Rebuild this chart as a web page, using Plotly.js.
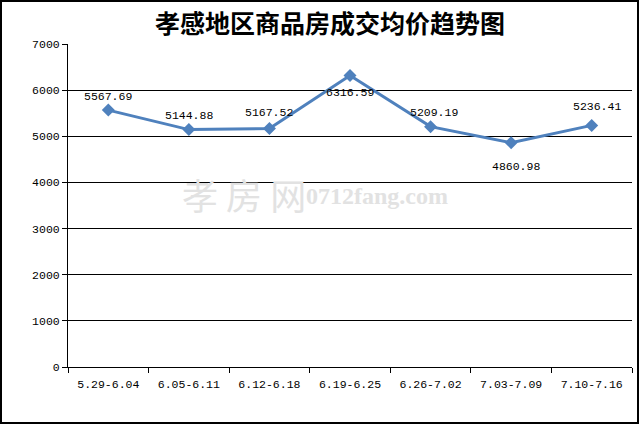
<!DOCTYPE html>
<html><head><meta charset="utf-8">
<script src="https://cdn.plot.ly/plotly-3.0.1.min.js"></script>
<style>body{margin:0;padding:0;background:#fff}#chart{width:642px;height:424px}</style>
</head><body><div id="chart"></div>
<script>
const categories = ["5.29-6.04","6.05-6.11","6.12-6.18","6.19-6.25","6.26-7.02","7.03-7.09","7.10-7.16"];
const prices = [5567.69, 5144.88, 5167.52, 6316.59, 5209.19, 4860.98, 5236.41];
const yTicks = [0,1000,2000,3000,4000,5000,6000,7000];
// label offsets in px (style only)
const labelDy = [14, 14, 16, -17, 14, -24, 19];
const labelDx = [0, 0, 0, 0, 3, 5, 5];

const mono = "'Liberation Mono', 'DejaVu Sans Mono', monospace";
const trace = {
  x: categories, y: prices, type: 'scatter', mode: 'lines+markers',
  line: {color: '#4F81BD', width: 3},
  marker: {symbol: 'diamond', size: 10, color: '#4F81BD'},
  cliponaxis: false, hoverinfo: 'none'
};
const W = 564, H = 323;
const labelAnns = prices.map((v, i) => ({
  x: categories[i], y: v, xref: 'x', yref: 'y', text: v.toFixed(2), showarrow: false,
  xanchor: 'center', yanchor: 'middle', xshift: labelDx[i], yshift: labelDy[i],
  font: {family: mono, size: 11.5, color: '#000'}
}));
const layout = {
  width: 642, height: 424,
  margin: {l: 68, r: 10, t: 44, b: 57},
  paper_bgcolor: '#fff', plot_bgcolor: '#fff',
  showlegend: false,
  title: {text: '孝感地区商品房成交均价趋势图', font: {family: "'Noto Sans CJK SC'", size: 25, color: '#000', weight: 'bold'},
          x: 330/642, xanchor: 'center', y: 1 - 24/424, yanchor: 'middle', yref: 'container'},
  xaxis: {type: 'category', range: [-0.5, 6.5], showgrid: false, zeroline: false,
          showline: true, linecolor: '#000', linewidth: 1,
          ticks: 'outside', tickson: 'boundaries', ticklen: 5, tickcolor: '#000',
          ticklabelstandoff: 6,
          tickfont: {family: mono, size: 11.5, color: '#000'}, fixedrange: true},
  yaxis: {range: [0, 7000], tickvals: yTicks, ticktext: yTicks.map(String),
          showgrid: true, gridcolor: '#000', gridwidth: 1, zeroline: false,
          showline: true, linecolor: '#000', linewidth: 1,
          ticks: 'outside', ticklen: 5, tickcolor: '#000',
          tickfont: {family: mono, size: 11.5, color: '#000'}, fixedrange: true},
  annotations: [
    {xref: 'paper', yref: 'paper', x: (180 - 68)/W, y: (367 - 194)/H, xanchor: 'left', yanchor: 'middle',
     text: '孝 房 网', showarrow: false,
     font: {family: "'Noto Sans CJK SC'", size: 36, color: '#e2e2e2'}},
    {xref: 'paper', yref: 'paper', x: (304 - 68)/W, y: (367 - 196)/H, xanchor: 'left', yanchor: 'middle',
     text: '0712fang.com', showarrow: false,
     font: {family: "'Liberation Serif', serif", size: 24, color: '#e2e2e2', weight: 'bold'}}
  ].concat(labelAnns),
  shapes: [
    {type: 'rect', xref: 'paper', yref: 'paper', x0: (1 - 68)/W, x1: (638 - 68)/W,
     y0: (367 - 423)/H, y1: (367 - 1)/H, line: {color: '#000', width: 2}, layer: 'above'}
  ]
};
Plotly.newPlot('chart', [trace], layout, {staticPlot: true, displayModeBar: false});
</script></body></html>
